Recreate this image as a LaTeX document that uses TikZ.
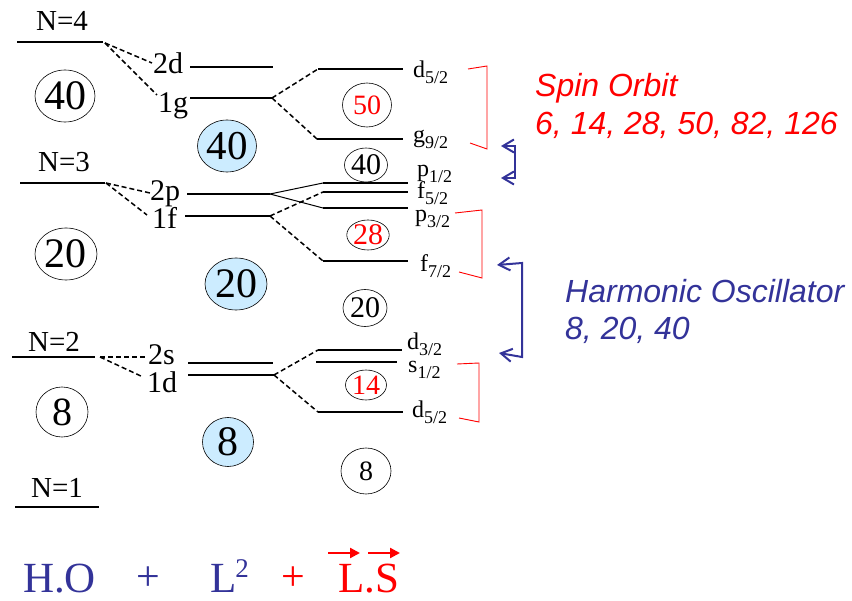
\documentclass[tikz,border=0pt]{standalone}
\usepackage{fontspec}
\setmainfont{Liberation Serif}
\newfontfamily\arialfont{Liberation Sans}
\usetikzlibrary{arrows.meta,shapes.geometric,calc}
\definecolor{hoblue}{RGB}{51,51,153}
\definecolor{shell}{RGB}{204,236,255}
\definecolor{sored}{RGB}{255,0,0}
\newcommand\fsz[1]{\fontsize{#1}{#1}\selectfont}
\newcommand\jlab[2]{#1\raisebox{-6pt}{\fsz{18}#2}}
\begin{document}
\begin{tikzpicture}[x=1pt,y=-1pt,
  lvl/.style={line width=1.4pt},
  dsh/.style={line width=1.5pt, dash pattern=on 5pt off 3pt},
  fan/.style={line width=1pt},
  magic/.style={ellipse, draw=black, line width=0.6pt, inner sep=0pt},
  shellc/.style={magic, fill=shell},
  ntxt/.style={inner sep=0pt, anchor=base, font=\fsz{29}},
  mtxt/.style={inner sep=0pt, anchor=base west, font=\fsz{30}},
  rtxt/.style={inner sep=0pt, anchor=base west, font=\fsz{24}},
  btxt/.style={inner sep=0pt, anchor=base west},
  brk/.style={draw=sored, line width=0.9pt},
  hoarrow/.style={draw=hoblue, line width=2pt,
    {Straight Barb[length=11pt,width=13pt]}-{Straight Barb[length=11pt,width=13pt]}},
  vecarrow/.style={draw=sored, line width=2.2pt, -{Triangle[length=10pt,width=10pt]}},
  sotxt/.style={inner sep=0pt, anchor=base west, font=\arialfont\itshape\fsz{32}},
]
\useasboundingbox (0,0) rectangle (852,601);

% ---------- left column: harmonic oscillator shells ----------
\coordinate (n4a) at (17,42);  \coordinate (n4b) at (103,42);
\coordinate (n3a) at (20,183); \coordinate (n3b) at (105,183);
\coordinate (n2a) at (12,357); \coordinate (n2b) at (95,357);
\coordinate (n1a) at (15,507); \coordinate (n1b) at (99,507);
\draw[lvl] (n4a) -- (n4b);
\draw[lvl] (n3a) -- (n3b);
\draw[lvl] (n2a) -- (n2b);
\draw[lvl] (n1a) -- (n1b);
\node[ntxt] (tn4) at (62,31) {N=4};
\node[ntxt] (tn3) at (64,172) {N=3};
\node[ntxt] (tn2) at (54,352) {N=2};
\node[ntxt] (tn1) at (57,498) {N=1};

\node[magic, minimum width=60pt, minimum height=52pt, font=\fsz{42}] (cl40) at (65,96) {40};
\node[magic, minimum width=62pt, minimum height=52pt, font=\fsz{42}] (cl20) at (66,254) {20};
\node[magic, minimum width=52pt, minimum height=50pt, font=\fsz{40}] (cl8) at (62,412) {8};

% ---------- middle column: L^2 ----------
\node[mtxt] (l2d) at (153,74) {2d};
\node[mtxt] (l1g) at (158,113) {1g};
\node[mtxt] (l2p) at (150,201) {2p};
\node[mtxt] (l1f) at (152,229) {1f};
\node[mtxt] (l2s) at (148,365) {2s};
\node[mtxt] (l1d) at (147,393) {1d};

\coordinate (d2a) at (190,67);  \coordinate (d2b) at (273,67);
\coordinate (g1a) at (190,98);  \coordinate (g1b) at (272,98);
\coordinate (p2a) at (187,194); \coordinate (p2b) at (270,194);
\coordinate (f1a) at (185,216); \coordinate (f1b) at (270,216);
\coordinate (s2a) at (188,363); \coordinate (s2b) at (273,363);
\coordinate (d1a) at (188,375); \coordinate (d1b) at (274,375);
\draw[lvl] (d2a) -- (d2b);
\draw[lvl] (g1a) -- (g1b);
\draw[lvl] (p2a) -- (p2b);
\draw[lvl] (f1a) -- (f1b);
\draw[lvl] (s2a) -- (s2b);
\draw[lvl] (d1a) -- (d1b);

% dashed connectors N -> nl
\coordinate (n4s) at (105,43);
\coordinate (n3s) at (106,183);
\coordinate (n2s) at (100,357);
\coordinate (e2d) at (152,63);
\coordinate (e1g) at (157,95);
\coordinate (e2p) at (150,193);
\coordinate (e1f) at (147,215);
\coordinate (e2s) at (147,357);
\coordinate (e1d) at (143,377);
\draw[dsh] (n4s) -- (e2d);
\draw[dsh] (n4s) -- (e1g);
\draw[dsh] (n3s) -- (e2p);
\draw[dsh] (n3s) -- (e1f);
\draw[dsh] (n2s) -- (e2s);
\draw[dsh] (n2s) -- (e1d);

\node[shellc, minimum width=59pt, minimum height=52pt, font=\fsz{41}] (cm40) at (227,146) {40};
\node[shellc, minimum width=62pt, minimum height=52pt, font=\fsz{42}] (cm20) at (236,284) {20};
\node[shellc, minimum width=51pt, minimum height=49pt, font=\fsz{42}] (cm8) at (228,442) {8};

% ---------- right column: spin-orbit ----------
\coordinate (rd5a) at (318,69);  \coordinate (rd5b) at (403,69);
\coordinate (rg9a) at (317,139); \coordinate (rg9b) at (403,139);
\coordinate (rp1a) at (323,183); \coordinate (rp1b) at (408,183);
\coordinate (rf5a) at (323,192); \coordinate (rf5b) at (408,192);
\coordinate (rp3a) at (323,208); \coordinate (rp3b) at (408,208);
\coordinate (rf7a) at (323,261); \coordinate (rf7b) at (408,261);
\coordinate (rd3a) at (318,350); \coordinate (rd3b) at (402,350);
\coordinate (rs1a) at (316,362); \coordinate (rs1b) at (397,362);
\coordinate (rd5c) at (318,412); \coordinate (rd5d) at (403,412);
\foreach \a/\b in {rd5a/rd5b,rg9a/rg9b,rp1a/rp1b,rf5a/rf5b,rp3a/rp3b,rf7a/rf7b,rd3a/rd3b,rs1a/rs1b,rd5c/rd5d}
  \draw[lvl] (\a) -- (\b);

\draw[dsh] (g1b) -- (rd5a);
\draw[dsh] (g1b) -- (rg9a);
\draw[fan] (p2b) -- (rp1a);
\draw[fan] (p2b) -- (rp3a);
\draw[dsh] (f1b) -- (rf5a);
\draw[dsh] (f1b) -- (rf7a);
\draw[dsh] (d1b) -- (rd3a);
\draw[dsh] (d1b) -- (rd5c);

\node[rtxt] (td5a) at (413,78)  {\jlab{d}{5/2}};
\node[rtxt] (tg9)  at (413,143) {\jlab{g}{9/2}};
\node[rtxt] (tp1)  at (417,177) {\jlab{p}{1/2}};
\node[rtxt] (tf5)  at (417,199) {\jlab{f}{5/2}};
\node[rtxt] (tp3)  at (415,222) {\jlab{p}{3/2}};
\node[rtxt] (tf7)  at (420,272) {\jlab{f}{7/2}};
\node[rtxt] (td3)  at (407,350) {\jlab{d}{3/2}};
\node[rtxt] (ts1)  at (408,373) {\jlab{s}{1/2}};
\node[rtxt] (td5b) at (412,418) {\jlab{d}{5/2}};

\node[magic, minimum width=49pt, minimum height=44pt, font=\fsz{28}, text=sored] (cr50) at (367,105) {50};
\node[magic, minimum width=43pt, minimum height=34pt, font=\fsz{30}] (cr40) at (366,165) {40};
\node[magic, minimum width=41pt, minimum height=30pt, font=\fsz{30}, text=sored] (cr28) at (368,235) {28};
\node[magic, minimum width=44pt, minimum height=37pt, font=\fsz{30}] (cr20) at (365,308) {20};
\node[magic, minimum width=41pt, minimum height=30pt, font=\fsz{28}, text=sored] (cr14) at (366,385) {14};
\node[magic, minimum width=50pt, minimum height=46pt, font=\fsz{28}] (cr8) at (366,471) {8};

% ---------- red brackets ----------
\draw[brk] (468,69) -- (487,66) -- (487,149) -- (470,143);
\draw[brk] (455,213) -- (482,210) -- (482,278) -- (459,272);
\draw[brk] (457,364) -- (479,363) -- (479,422) -- (459,418);

% ---------- blue arrows ----------
\coordinate (ba1) at (501,146); \coordinate (bc1) at (515,146);
\coordinate (bc2) at (515,178); \coordinate (ba2) at (501,178);
\draw[hoarrow] (ba1) -- (bc1) -- (bc2) -- (ba2);
\coordinate (ba3) at (497,265); \coordinate (bc3) at (522,263);
\coordinate (bc4) at (522,357); \coordinate (ba4) at (499,353);
\draw[hoarrow] (ba3) -- (bc3) -- (bc4) -- (ba4);

% ---------- legends ----------
\node[sotxt, text=sored] (so1) at (535,97) {Spin Orbit};
\node[sotxt, text=sored] (so2) at (535,135) {6, 14, 28, 50, 82, 126};
\node[sotxt, text=hoblue] (hl1) at (565,303) {Harmonic Oscillator};
\node[sotxt, text=hoblue] (hl2) at (565,340) {8, 20, 40};

% ---------- bottom formula ----------
\node[btxt, text=hoblue, font=\fsz{43}] (fho) at (23,592) {H.O};
\node[inner sep=0pt, anchor=base, text=hoblue, font=\fsz{42}] (fp1) at (148,590) {+};
\node[btxt, text=hoblue, font=\fsz{43}] (fl2) at (210,592) {L\kern-1pt\raisebox{15pt}{\fsz{27}2}};
\node[inner sep=0pt, anchor=base, text=sored, font=\fsz{42}] (fp2) at (293,590) {+};
\node[btxt, text=sored, font=\fsz{43}] (fls) at (338,592) {L.S};
\coordinate (vl1) at (328,553); \coordinate (vl2) at (360,553);
\coordinate (vs1) at (368,553); \coordinate (vs2) at (400,553);
\draw[vecarrow] (vl1) -- (vl2);
\draw[vecarrow] (vs1) -- (vs2);
\end{tikzpicture}
\end{document}
